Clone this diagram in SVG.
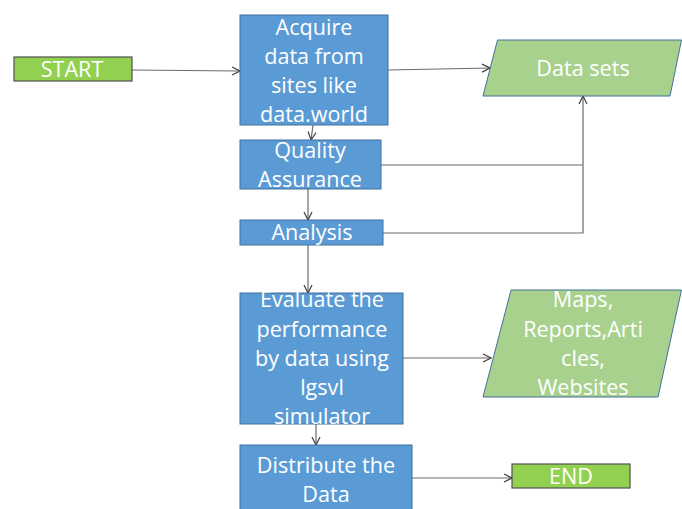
<svg xmlns="http://www.w3.org/2000/svg" width="682" height="509" viewBox="0 0 682 509">
<style>
.blue{fill:#5b9bd5;stroke:#41719c;stroke-width:1}
.green{fill:#92d050;stroke:#505050;stroke-width:1.2}
.lgreen{fill:#a9d18e;stroke:#41719c;stroke-width:1}
.t{font-family:"Open Sans","Liberation Sans",sans-serif;font-size:21.6px;fill:#ffffff;text-anchor:middle}
.c{fill:none;stroke:#6a6a6a;stroke-width:1.2}
</style>
<defs>
<marker id="ah" viewBox="0 0 10 10" refX="9" refY="5" markerWidth="10" markerHeight="10" markerUnits="userSpaceOnUse" orient="auto">
<path d="M1,1 L9,5 L1,9" fill="none" stroke="#404040" stroke-width="1.2"/>
</marker>
</defs>
<rect width="682" height="509" fill="#ffffff"/>
<g id="connectors">
<path class="c" d="M132,70 L240,71" marker-end="url(#ah)"/>
<path d="M122,65 L128,70 L122,75" fill="none" stroke="#5b9bd5" stroke-width="1"/>
<path class="c" d="M388,70 L490,68" marker-end="url(#ah)"/>
<path class="c" d="M313,125 L311,140" marker-end="url(#ah)"/>
<path class="c" d="M381,165 L583,165"/>
<path class="c" d="M383,233 L583,233 L583,96" marker-end="url(#ah)"/>
<path class="c" d="M308,189 L308,220" marker-end="url(#ah)"/>
<path class="c" d="M308,245 L308,293" marker-end="url(#ah)"/>
<path class="c" d="M403,358 L491,358" marker-end="url(#ah)"/>
<path class="c" d="M316,424 L316,445" marker-end="url(#ah)"/>
<path class="c" d="M412,478 L512,478" marker-end="url(#ah)"/>
</g>
<g id="start">
<rect class="green" x="14" y="57" width="118" height="24"/>
<text class="t" x="72" y="77">START</text>
</g>
<g id="acquire">
<rect class="blue" x="240" y="15" width="148" height="110"/>
<text class="t" x="314" y="35">Acquire</text>
<text class="t" x="314" y="64">data from</text>
<text class="t" x="314" y="93">sites like</text>
<text class="t" x="314" y="122">data.world</text>
</g>
<g id="quality">
<rect class="blue" x="240" y="140" width="141" height="49"/>
<text class="t" x="310" y="158">Quality</text>
<text class="t" x="310" y="187">Assurance</text>
</g>
<g id="analysis">
<rect class="blue" x="240" y="220" width="143" height="25"/>
<text class="t" x="312" y="240">Analysis</text>
</g>
<g id="datasets">
<polygon class="lgreen" points="497.5,40 681.5,40 670,96 483,96"/>
<text class="t" x="583" y="76">Data sets</text>
</g>
<g id="evaluate">
<rect class="blue" x="240" y="293" width="163" height="131"/>
<text class="t" x="322" y="307">Evaluate the</text>
<text class="t" x="322" y="337">performance</text>
<text class="t" x="322" y="366">by data using</text>
<text class="t" x="322" y="395">lgsvl</text>
<text class="t" x="322" y="424">simulator</text>
</g>
<g id="outputs">
<polygon class="lgreen" points="511,290 681.5,290 658,397 483,397"/>
<text class="t" x="583" y="307">Maps,</text>
<text class="t" x="583" y="337">Reports,Arti</text>
<text class="t" x="583" y="366">cles,</text>
<text class="t" x="583" y="395">Websites</text>
</g>
<g id="distribute">
<rect class="blue" x="240" y="445" width="172" height="70"/>
<text class="t" x="326" y="473">Distribute the</text>
<text class="t" x="326" y="502">Data</text>
</g>
<g id="end">
<rect class="green" x="512" y="464" width="118" height="24"/>
<text class="t" x="571" y="484">END</text>
</g>
</svg>
